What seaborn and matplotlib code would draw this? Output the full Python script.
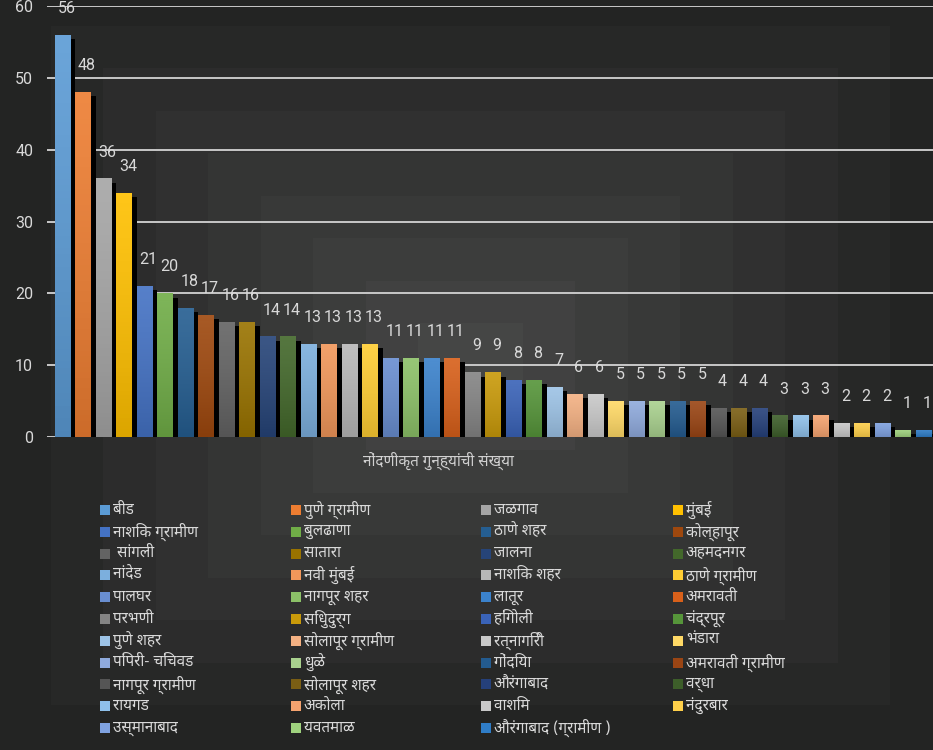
import numpy as np
import pandas as pd
import seaborn as sns
import matplotlib.pyplot as plt
import matplotlib.patheffects as pe
from matplotlib import font_manager
from matplotlib.colors import LinearSegmentedColormap
from matplotlib.patches import Rectangle

districts = ['बीड', 'पुणे ग्रामीण', 'जळगाव', 'मुंबई',
             'नाशिक ग्रामीण', 'बुलढाणा', 'ठाणे शहर', 'कोल्हापूर',
             ' सांगली', 'सातारा', 'जालना', 'अहमदनगर',
             'नांदेड', 'नवी मुंबई', 'नाशिक शहर', 'ठाणे ग्रामीण',
             'पालघर', 'नागपूर शहर', 'लातूर', 'अमरावती',
             'परभणी', 'सिंधुदुर्ग', 'हिंगोली', 'चंद्रपूर',
             'पुणे शहर', 'सोलापूर ग्रामीण', 'रत्नागिरी', 'भंडारा',
             'पिंपरी- चिंचवड', 'धुळे', 'गोंदिया', 'अमरावती ग्रामीण',
             'नागपूर ग्रामीण', 'सोलापूर शहर', 'औरंगाबाद', 'वर्धा',
             'रायगड', 'अकोला', 'वाशिम', 'नंदुरबार',
             'उस्मानाबाद', 'यवतमाळ', 'औरंगाबाद (ग्रामीण )']
counts = [56, 48, 36, 34, 21, 20, 18, 17, 16, 16, 14, 14, 13, 13, 13, 13,
          11, 11, 11, 11, 9, 9, 8, 8, 7, 6, 6, 5, 5, 5, 5, 5, 4, 4, 4,
          3, 3, 3, 2, 2, 2, 1, 1]
colors = ['#5B9BD5', '#ED7D31', '#A5A5A5', '#FFC000', '#4472C4', '#70AD47',
          '#255E91', '#9E480E', '#636363', '#997300', '#264478', '#43682B',
          '#7CAFDD', '#F1975A', '#B7B7B7', '#FFCD33', '#698ED0', '#8CC168',
          '#3B82CC', '#D8601A', '#848484', '#C99A0A', '#3A63B8', '#56953A',
          '#9DC3E6', '#F4B183', '#C9C9C9', '#FFD966', '#8FAADC', '#A9D18E',
          '#235B8F', '#9A4514', '#555555', '#7A5E14', '#25407A', '#3D5E2A',
          '#8FC0EA', '#F5A36F', '#C8C8C8', '#FFD04A', '#7FA2E0', '#9FD27E',
          '#2F7DC7']
category = 'नोंदणीकृत गुन्ह्यांची संख्या'
yticks = [0, 10, 20, 30, 40, 50, 60]

df = pd.DataFrame({'district': districts, 'count': counts})

sns.set_theme(style='dark')
installed = {f.name for f in font_manager.fontManager.ttflist}
deva = next((n for n in ['Noto Sans Devanagari', 'Noto Sans Devanagari UI', 'Hind', 'Mukta']
             if n in installed), None)
plt.rcParams['font.family'] = ([deva] if deva else []) + ['DejaVu Sans']
num_font = ['Roboto', 'DejaVu Sans']

W, H = 933, 750
fig = plt.figure(figsize=(W / 100, H / 100), dpi=100)
fig.patch.set_facecolor('#252625')

# stepped concentric background, lighter toward the middle
yy, xx = np.mgrid[0:H, 0:W]
d = np.maximum(np.abs(xx - 470) / 420.0, np.abs(yy - 365) / 340.0)
level = np.clip(np.floor(d * 8), 0, 8)
g = 0.272 - level * 0.0165
bg = np.dstack([g, g * 1.01, g]).clip(0, 1)
fig.figimage(bg, xo=0, yo=0, origin='upper', zorder=-1)

ax = fig.add_axes([47 / W, 1 - 437 / H, 1 - 47 / W, (437 - 6) / H])
ax.set_zorder(2)
ax.set_facecolor('none')

sns.barplot(data=df, x='district', y='count', hue='district',
            palette=colors, legend=False, saturation=1, width=0.78,
            linewidth=0, ax=ax, zorder=3)

shade = LinearSegmentedColormap.from_list('shade', [(0, 0, 0, 0.14), (1, 1, 1, 0.10)])
grad = np.linspace(0, 1, 64).reshape(-1, 1)
for p in list(ax.patches):
    p.set_edgecolor('none')
    p.set_path_effects([pe.SimplePatchShadow(offset=(3, -3), shadow_rgbFace='black', alpha=1),
                        pe.Normal()])
    x0, w, h = p.get_x(), p.get_width(), p.get_height()
    im = ax.imshow(grad, extent=[x0, x0 + w, 0, h], origin='lower', aspect='auto',
                   cmap=shade, zorder=3.5)
    im.set_clip_path(p)

for i, v in enumerate(counts):
    ax.annotate(str(v), (i, v), xytext=(2.5, 19), textcoords='offset points',
                ha='center', va='center', fontsize=11.5, color='#d9d9d9',
                family=num_font, zorder=4)

ax.set_xlim(-0.78, 42.44)
ax.set_ylim(0, 60)
ax.set_yticks(yticks)
ax.set_xticks([])
ax.set_xlabel('')
ax.set_ylabel('')
ax.grid(axis='y', color='#c8c8c8', linewidth=1.4, zorder=1)
ax.set_axisbelow(True)
for s in ax.spines.values():
    s.set_visible(False)
ax.tick_params(axis='y', length=0, pad=10, labelsize=11.5, labelcolor='#d9d9d9')
for t in ax.get_yticklabels():
    t.set_family(num_font)

fig.text(438 / W, 1 - 461 / H, category, ha='center', va='center',
         fontsize=11, color='#d0d0d0', zorder=5)

# legend laid out row by row, four columns
col_x = [100, 291, 481, 673]
for i, (name, c) in enumerate(zip(districts, colors)):
    r, k = divmod(i, 4)
    x = col_x[k]
    y = 510 + 21.8 * r
    fig.patches.append(Rectangle((x / W, 1 - (y + 5) / H), 10 / W, 10 / H,
                                 transform=fig.transFigure, facecolor=c,
                                 edgecolor='none', figure=fig, zorder=5))
    fig.text((x + 13) / W, 1 - y / H, name, ha='left', va='center',
             fontsize=11, color='#d9d9d9', zorder=5)

fig.savefig('out.png', dpi=100, facecolor=fig.get_facecolor())
